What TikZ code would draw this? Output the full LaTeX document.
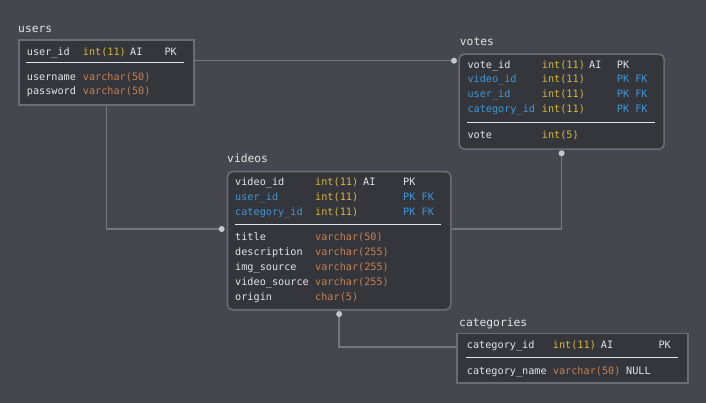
\documentclass[tikz,border=0pt]{standalone}
\usepackage{fontspec}
\setmonofont{DejaVu Sans Mono}
\usepackage{tikz}
\usetikzlibrary{positioning}

\definecolor{bgc}{RGB}{70,70,78}
\definecolor{tblfill}{RGB}{53,53,60}
\definecolor{tblline}{RGB}{108,108,116}
\definecolor{connline}{RGB}{118,118,126}
\definecolor{dotc}{RGB}{198,198,204}
\definecolor{txtc}{RGB}{228,228,230}
\definecolor{fkblue}{RGB}{62,152,214}
\definecolor{intyel}{RGB}{214,184,58}
\definecolor{vcbrown}{RGB}{196,130,82}

\begin{document}
\begin{tikzpicture}[x=1pt, y=-1pt, font=\ttfamily\fontsize{10.2}{12}\selectfont,
	tbl/.style={draw=tblline, fill=tblfill, line width=1.6pt, anchor=north west, inner sep=0pt},
	rtbl/.style={tbl, rounded corners=5pt},
	ttl/.style={anchor=base west, inner sep=0pt, text=txtc, font=\ttfamily\fontsize{11.3}{13}\selectfont},
	col/.style={anchor=base west, inner sep=0pt, text=txtc},
	fk/.style={col, text=fkblue},
	ityp/.style={col, text=intyel},
	vtyp/.style={col, text=vcbrown},
	sepline/.style={draw=txtc, line width=1.1pt},
	conn/.style={draw=connline, line width=1.6pt},
	dot/.style={circle, fill=dotc, inner sep=0pt, minimum size=6pt}]
	\fill[bgc] (0,0) rectangle (706,403);

	% connectors first, boxes go on top
	\coordinate (uv) at (454,60.7);
	\coordinate (vd) at (221.7,229);
	\coordinate (cd) at (456,347);
	\node[tbl, minimum width=175pt, minimum height=65pt] (users) at (18,39) {};
	\node[rtbl, minimum width=205pt, minimum height=95pt] (votes) at (458.3,53.3) {};
	\node[rtbl, minimum width=223.3pt, minimum height=138.3pt] (videos) at (226.7,170.7) {};
	\node[tbl, minimum width=231.3pt, minimum height=49.6pt] (categories) at (456,332.7) {};

	\draw[conn] (users.east |- uv) -- (uv);
	\draw[conn] (users.south) |- (vd);
	\draw[conn] ([yshift=-3.4pt]votes.south) |- (videos.east |- vd);
	\draw[conn] ([yshift=-3.4pt]videos.south) |- (cd);
	\node[dot] (uvdot) at (uv) {};
	\node[dot] (vddot) at (vd) {};
	\node[dot] (vsdot) at ([yshift=-3.4pt]votes.south) {};
	\node[dot] (cddot) at ([yshift=-3.4pt]videos.south) {};

	% users
	\node[ttl] (users-t) at (18,32.3) {users};
	\node[col] (u1n) at (26.7,55.3) {user\_id};
	\node[ityp] (u1t) at (82.7,55.3) {int(11)};
	\node[col] (u1a) at (130,55.3) {AI};
	\node[col] (u1k) at (164.3,55.3) {PK};
	\draw[sepline] (26,62.7) -- (184,62.7);
	\node[col] (u2n) at (26.7,80.3) {username};
	\node[vtyp] (u2t) at (82.7,80.3) {varchar(50)};
	\node[col] (u3n) at (26.7,94.6) {password};
	\node[vtyp] (u3t) at (82.7,94.6) {varchar(50)};

	% votes
	\node[ttl] (votes-t) at (459.7,45.7) {votes};
	\node[col] (v1n) at (467.3,68.6) {vote\_id};
	\node[ityp] (v1t) at (541.7,68.6) {int(11)};
	\node[col] (v1a) at (589,68.6) {AI};
	\node[col] (v1k) at (616.7,68.6) {PK};
	\node[fk] (v2n) at (467.3,82.6) {video\_id};
	\node[ityp] (v2t) at (541.7,82.6) {int(11)};
	\node[fk] (v2k) at (616.7,82.6) {PK FK};
	\node[fk] (v3n) at (467.3,97.9) {user\_id};
	\node[ityp] (v3t) at (541.7,97.9) {int(11)};
	\node[fk] (v3k) at (616.7,97.9) {PK FK};
	\node[fk] (v4n) at (467.3,112.6) {category\_id};
	\node[ityp] (v4t) at (541.7,112.6) {int(11)};
	\node[fk] (v4k) at (616.7,112.6) {PK FK};
	\draw[sepline] (467,122.3) -- (655,122.3);
	\node[col] (v5n) at (467.3,138.6) {vote};
	\node[ityp] (v5t) at (541.7,138.6) {int(5)};

	% videos
	\node[ttl] (videos-t) at (227,163) {videos};
	\node[col] (d1n) at (235,185.9) {video\_id};
	\node[ityp] (d1t) at (315,185.9) {int(11)};
	\node[col] (d1a) at (363,185.9) {AI};
	\node[col] (d1k) at (403,185.9) {PK};
	\node[fk] (d2n) at (235,200.3) {user\_id};
	\node[ityp] (d2t) at (315,200.3) {int(11)};
	\node[fk] (d2k) at (403,200.3) {PK FK};
	\node[fk] (d3n) at (235,215.3) {category\_id};
	\node[ityp] (d3t) at (315,215.3) {int(11)};
	\node[fk] (d3k) at (403,215.3) {PK FK};
	\draw[sepline] (235,224.3) -- (441,224.3);
	\node[col] (d4n) at (235,240.9) {title};
	\node[vtyp] (d4t) at (315,240.9) {varchar(50)};
	\node[col] (d5n) at (235,255.9) {description};
	\node[vtyp] (d5t) at (315,255.9) {varchar(255)};
	\node[col] (d6n) at (235,270.9) {img\_source};
	\node[vtyp] (d6t) at (315,270.9) {varchar(255)};
	\node[col] (d7n) at (235,285.3) {video\_source};
	\node[vtyp] (d7t) at (315,285.3) {varchar(255)};
	\node[col] (d8n) at (235,300.3) {origin};
	\node[vtyp] (d8t) at (315,300.3) {char(5)};

	% categories
	\node[ttl] (categories-t) at (459,326.3) {categories};
	\node[col] (c1n) at (466.7,348.6) {category\_id};
	\node[ityp] (c1t) at (552.7,348.6) {int(11)};
	\node[col] (c1a) at (600.7,348.6) {AI};
	\node[col] (c1k) at (658.3,348.6) {PK};
	\draw[sepline] (466,357.7) -- (678,357.7);
	\node[col] (c2n) at (466.7,374.3) {category\_name};
	\node[vtyp] (c2t) at (552.7,374.3) {varchar(50)};
	\node[col] (c2a) at (626,374.3) {NULL};
\end{tikzpicture}
\end{document}
